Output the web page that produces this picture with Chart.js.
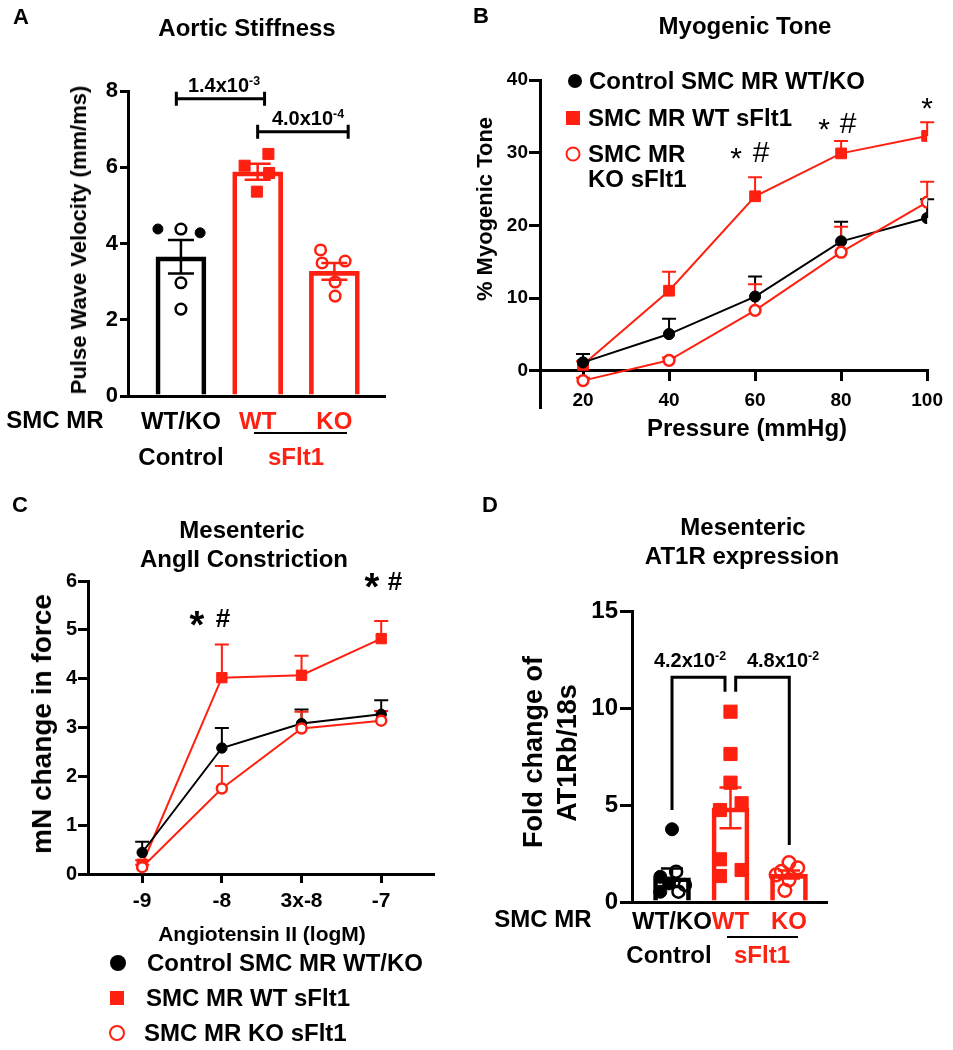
<!DOCTYPE html>
<html>
<head>
<meta charset="utf-8">
<script src="https://cdn.jsdelivr.net/npm/chart.js@4.4.0/dist/chart.umd.min.js"></script>
<style>
  html, body { margin: 0; padding: 0; background: #fff; }
  #page { position: relative; width: 953px; height: 1050px; overflow: hidden;
          font-family: 'Liberation Sans', Arial, sans-serif; font-weight: bold; color: #000; }
  #page canvas { position: absolute; left: 0; top: 0; }
  .t { position: absolute; white-space: nowrap; line-height: 1; transform: translate(-50%, -50%); }
  .t.left { transform: translate(0, -50%); }
  .t.rot { transform: translate(-50%, -50%) rotate(-90deg); }
  .t sup { font-size: 0.62em; vertical-align: 0.6em; line-height: 0; }
  .mk { position: absolute; box-sizing: border-box; transform: translate(-50%, -50%); }
  .hl { position: absolute; height: 2px; background: #000; }
</style>
</head>
<body>
<div id="page">
  <canvas id="cA" width="953" height="1050"></canvas>
  <canvas id="cB" width="953" height="1050"></canvas>
  <canvas id="cC" width="953" height="1050"></canvas>
  <canvas id="cD" width="953" height="1050"></canvas>
</div>
<script>
const BLACK = '#000';
const RED = '#fe2010';

// A: aortic stiffness, pulse wave velocity (mm/ms)
const aortaGroups = ['WT/KO', 'WT', 'KO'];
const aortaMean = [3.65, 5.88, 3.27];
const aortaSem = [0.44, 0.21, 0.22];
const aortaCtrlClosed = [4.38, 4.28];
const aortaCtrlClosedJit = [-0.3, 0.25];
const aortaCtrlOpen = [4.38, 2.97, 2.28];
const aortaCtrlOpenJit = [0, 0, 0];
const aortaWT = [6.04, 6.35, 5.85, 5.36];
const aortaWTJit = [-0.17, 0.14, 0.15, -0.01];
const aortaKO = [3.83, 3.49, 3.54, 2.99, 2.62];
const aortaKOJit = [-0.18, -0.16, 0.14, 0.01, 0.01];
const aortaTicks = [0, 2, 4, 6, 8];
// brackets: from / to (group units), height (mm/ms)
const aortaBrFrom = [0.94, 2.0];
const aortaBrTo = [2.09, 3.18];
const aortaBrY = [7.8, 6.93];

// B: myogenic tone (%)
const pressure = [20, 40, 60, 80, 100];
const toneCtrl = [1.14, 5.04, 10.2, 17.8, 21.0];
const toneCtrlSem = [1.16, 2.11, 2.76, 2.7, 2.6];
const toneWT = [0.8, 11.0, 24.0, 29.9, 32.3];
const toneWTSem = [0.5, 2.6, 2.6, 1.7, 1.9];
const toneKO = [-1.37, 1.42, 8.3, 16.3, 23.2];
const toneKOSem = [0.4, 0.4, 3.6, 3.5, 2.8];
const toneTicks = [0, 10, 20, 30, 40];

// C: AngII constriction (mN)
const doseLabels = ['-9', '-8', '3x-8', '-7'];
const forceCtrl = [0.44, 2.58, 3.08, 3.27];
const forceCtrlSem = [0.22, 0.41, 0.29, 0.29];
const forceWT = [0.2, 4.02, 4.07, 4.82];
const forceWTSem = [0.08, 0.68, 0.4, 0.36];
const forceKO = [0.14, 1.75, 2.98, 3.14];
const forceKOSem = [0.05, 0.46, 0.34, 0.2];
const forceTicks = [0, 1, 2, 3, 4, 5, 6];

// D: AT1Rb/18s fold change
const atGroups = ['WT/KO', 'WT', 'KO'];
const atMean = [1.25, 4.85, 1.42];
const atSem = [0.48, 1.05, 0.21];
const atCtrlClosed = [3.75, 1.3, 0.53, 0.96];
const atCtrlClosedJit = [0, -0.2, -0.2, -0.05];
const atCtrlOpen = [1.56, 0.88, 0.53];
const atCtrlOpenJit = [0.07, 0.22, 0.11];
const atWT = [9.81, 7.63, 6.15, 5.09, 4.74, 2.2, 1.34, 1.65];
const atWTJit = [0, 0, 0, 0.19, -0.18, -0.18, -0.18, 0.19];
const atKO = [1.58, 2.03, 1.76, 0.6, 1.4, 1.14];
const atKOJit = [-0.13, 0, 0.15, -0.07, -0.22, 0];
const atTicks = [0, 5, 10, 15];
// bracket legs (group units / fold change)
const atBrX = [[1, 1.906], [2.089, 3.005]];
const atBrLow = [[4.74, 10.84], [10.84, 2.94]];
const atBrTop = 11.58;

Chart.defaults.font.family = "'Liberation Sans', Arial, sans-serif";
Chart.defaults.font.weight = 'bold';
Chart.defaults.color = BLACK;
Chart.defaults.animation = false;
Chart.defaults.plugins.legend.display = false;
Chart.defaults.plugins.tooltip.enabled = false;

const groupColor = [BLACK, RED, RED];
const YW = 60;   // room kept for y tick labels
const XH = 60;   // room kept for x tick labels

function pts(vals, jit, center) {
  return vals.map((v, i) => ({ x: center + jit[i], y: v }));
}
function xy(xs, ys) {
  return xs.map((x, i) => ({ x: x, y: ys[i] }));
}
function fixTicks(list) {
  return s => { s.ticks = list.map(v => ({ value: v })); };
}
// plot area in page pixels -> layout padding (every canvas covers the page)
function area(l, t, r, b, xh) {
  return { left: l - YW, top: t, right: 953 - r, bottom: 1050 - b - xh };
}
const fitY = s => { s.width = YW; };
const fitX = s => { s.height = XH; };

function errBars(chart, xs, ys, sems, colors, half, both, lw) {
  const { ctx, scales: { x, y } } = chart;
  ctx.save();
  ctx.lineWidth = lw;
  xs.forEach((xv, i) => {
    const px = x.getPixelForValue(xv);
    const top = y.getPixelForValue(ys[i] + sems[i]);
    const bot = y.getPixelForValue(both ? ys[i] - sems[i] : ys[i]);
    ctx.strokeStyle = colors[i];
    ctx.beginPath();
    ctx.moveTo(px, bot); ctx.lineTo(px, top);
    ctx.moveTo(px - half, top); ctx.lineTo(px + half, top);
    if (both) { ctx.moveTo(px - half, bot); ctx.lineTo(px + half, bot); }
    ctx.stroke();
  });
  ctx.restore();
}

const axisBorder = { display: true, color: BLACK, width: 3 };
const tickGrid = len => ({ display: true, drawOnChartArea: false, drawTicks: true, tickLength: len, color: BLACK, lineWidth: 3 });
const noGrid = { display: false, drawTicks: false };

// ---------- A ----------
new Chart(document.getElementById('cA'), {
  type: 'bar',
  data: {
    datasets: [
      { type: 'scatter', data: pts(aortaCtrlClosed, aortaCtrlClosedJit, 1), pointStyle: 'circle', pointRadius: 5, backgroundColor: BLACK, borderColor: BLACK, borderWidth: 1 },
      { type: 'scatter', data: pts(aortaCtrlOpen, aortaCtrlOpenJit, 1), pointStyle: 'circle', pointRadius: 5.3, backgroundColor: 'rgba(0,0,0,0)', borderColor: BLACK, borderWidth: 2.5 },
      { type: 'scatter', data: pts(aortaWT, aortaWTJit, 2), pointStyle: 'rect', pointRadius: 7.8, backgroundColor: RED, borderColor: RED, borderWidth: 1 },
      { type: 'scatter', data: pts(aortaKO, aortaKOJit, 3), pointStyle: 'circle', pointRadius: 5.3, backgroundColor: 'rgba(0,0,0,0)', borderColor: RED, borderWidth: 2.5 },
      { type: 'bar', data: xy([1, 2, 3], aortaMean), backgroundColor: 'rgba(0,0,0,0)', borderColor: groupColor, borderWidth: 4, borderSkipped: 'start', barThickness: 50 }
    ]
  },
  options: {
    responsive: false, events: [],
    layout: { padding: area(128, 91, 385, 396, XH) },
    scales: {
      x: { type: 'linear', offset: false, min: 0.31, max: 3.66, afterBuildTicks: fixTicks([1, 2, 3]), afterFit: fitX,
           grid: noGrid, border: axisBorder,
           ticks: { padding: 12, font: { size: 24 }, maxRotation: 0, minRotation: 0, autoSkip: false,
                    color: c => groupColor[c.index], callback: v => aortaGroups[Math.round(v) - 1] } },
      y: { min: 0, max: 8, afterBuildTicks: fixTicks(aortaTicks), afterFit: fitY,
           grid: tickGrid(8), border: axisBorder, ticks: { padding: 2, font: { size: 22 } } }
    }
  },
  plugins: [{
    id: 'aortaExtras',
    afterDatasetsDraw(chart) {
      errBars(chart, [1, 2, 3], aortaMean, aortaSem, groupColor, 13, true, 2.5);
      const { ctx, scales: { x, y } } = chart;
      ctx.save();
      ctx.strokeStyle = BLACK; ctx.lineWidth = 3;
      aortaBrY.forEach((bv, i) => {
        const x1 = x.getPixelForValue(aortaBrFrom[i]), x2 = x.getPixelForValue(aortaBrTo[i]);
        const py = y.getPixelForValue(bv);
        ctx.beginPath();
        ctx.moveTo(x1, py); ctx.lineTo(x2, py);
        ctx.moveTo(x1, py - 7); ctx.lineTo(x1, py + 7);
        ctx.moveTo(x2, py - 7); ctx.lineTo(x2, py + 7);
        ctx.stroke();
      });
      ctx.restore();
    }
  }]
});

// ---------- B ----------
const lineSet = (xs, ys, color, style, r, fill, bw) => ({
  type: 'line', data: xy(xs, ys), borderColor: color, borderWidth: 2, tension: 0, fill: false,
  pointStyle: style, pointRadius: r, pointBackgroundColor: fill, pointBorderColor: color, pointBorderWidth: bw
});

new Chart(document.getElementById('cB'), {
  type: 'line',
  data: {
    datasets: [
      lineSet(pressure, toneKO, RED, 'circle', 5.4, '#fff', 2.5),
      lineSet(pressure, toneCtrl, BLACK, 'circle', 5.6, BLACK, 1),
      lineSet(pressure, toneWT, RED, 'rect', 7.6, RED, 1)
    ]
  },
  options: {
    responsive: false, events: [],
    layout: { padding: area(540, 80, 928, 407, 0) },
    scales: {
      x: { type: 'linear', min: 10, max: 100, position: { y: 0 }, afterBuildTicks: fixTicks(pressure),
           grid: tickGrid(9), border: axisBorder,
           ticks: { padding: 10, font: { size: 19 }, maxRotation: 0, autoSkip: false } },
      y: { min: -5, max: 40, afterBuildTicks: fixTicks(toneTicks), afterFit: fitY,
           grid: tickGrid(11), border: axisBorder, ticks: { padding: 1, font: { size: 19 } } }
    }
  },
  plugins: [{
    id: 'toneErr',
    beforeDatasetsDraw(chart) {
      errBars(chart, pressure, toneCtrl, toneCtrlSem, pressure.map(() => BLACK), 7, false, 2);
      errBars(chart, pressure, toneWT, toneWTSem, pressure.map(() => RED), 7, false, 2);
      errBars(chart, pressure, toneKO, toneKOSem, pressure.map(() => RED), 7, false, 2);
    }
  }]
});

// ---------- C ----------
const doseX = doseLabels.map((d, i) => i);
new Chart(document.getElementById('cC'), {
  type: 'line',
  data: {
    datasets: [
      lineSet(doseX, forceKO, RED, 'circle', 5, '#fff', 2.5),
      lineSet(doseX, forceCtrl, BLACK, 'circle', 5.2, BLACK, 1),
      lineSet(doseX, forceWT, RED, 'rect', 7.3, RED, 1)
    ]
  },
  options: {
    responsive: false, events: [],
    layout: { padding: area(88, 581, 433, 874, XH) },
    scales: {
      x: { type: 'linear', min: -0.68, max: 3.65, afterBuildTicks: fixTicks(doseX), afterFit: fitX,
           grid: tickGrid(9), border: axisBorder,
           ticks: { padding: 6, font: { size: 21 }, maxRotation: 0, autoSkip: false, callback: v => doseLabels[Math.round(v)] } },
      y: { min: 0, max: 6, afterBuildTicks: fixTicks(forceTicks), afterFit: fitY,
           grid: tickGrid(10), border: axisBorder, ticks: { padding: 1, font: { size: 20 } } }
    }
  },
  plugins: [{
    id: 'forceErr',
    beforeDatasetsDraw(chart) {
      errBars(chart, doseX, forceCtrl, forceCtrlSem, doseX.map(() => BLACK), 7, false, 2);
      errBars(chart, doseX, forceWT, forceWTSem, doseX.map(() => RED), 7, false, 2);
      errBars(chart, doseX, forceKO, forceKOSem, doseX.map(() => RED), 7, false, 2);
    }
  }]
});

// ---------- D ----------
new Chart(document.getElementById('cD'), {
  type: 'bar',
  data: {
    datasets: [
      { type: 'scatter', data: pts(atCtrlOpen, atCtrlOpenJit, 1), pointStyle: 'circle', pointRadius: 6, backgroundColor: 'rgba(0,0,0,0)', borderColor: BLACK, borderWidth: 2.5 },
      { type: 'scatter', data: pts(atCtrlClosed, atCtrlClosedJit, 1), pointStyle: 'circle', pointRadius: 6.5, backgroundColor: BLACK, borderColor: BLACK, borderWidth: 1 },
      { type: 'scatter', data: pts(atWT, atWTJit, 2), pointStyle: 'rect', pointRadius: 9.3, backgroundColor: RED, borderColor: RED, borderWidth: 1 },
      { type: 'scatter', data: pts(atKO, atKOJit, 3), pointStyle: 'circle', pointRadius: 6.3, backgroundColor: 'rgba(0,0,0,0)', borderColor: RED, borderWidth: 2.5 },
      { type: 'bar', data: xy([1, 2, 3], atMean), backgroundColor: 'rgba(0,0,0,0)', borderColor: groupColor, borderWidth: 4, borderSkipped: 'start', barThickness: 37 }
    ]
  },
  options: {
    responsive: false, events: [],
    layout: { padding: area(632, 611, 827, 902, XH) },
    scales: {
      x: { type: 'linear', offset: false, min: 0.316, max: 3.65, afterBuildTicks: fixTicks([1, 2, 3]), afterFit: fitX,
           grid: noGrid, border: axisBorder,
           ticks: { padding: 6, font: { size: 24 }, maxRotation: 0, minRotation: 0, autoSkip: false,
                    color: c => groupColor[c.index], callback: v => atGroups[Math.round(v) - 1] } },
      y: { min: 0, max: 15, afterBuildTicks: fixTicks(atTicks), afterFit: fitY,
           grid: tickGrid(12), border: axisBorder, ticks: { padding: 2, font: { size: 24 } } }
    }
  },
  plugins: [{
    id: 'atExtras',
    afterDatasetsDraw(chart) {
      errBars(chart, [1, 2, 3], atMean, atSem, groupColor, 11, true, 2.5);
      const { ctx, scales: { x, y } } = chart;
      ctx.save();
      ctx.strokeStyle = BLACK; ctx.lineWidth = 3;
      const top = y.getPixelForValue(atBrTop);
      atBrX.forEach((pair, i) => {
        const x1 = x.getPixelForValue(pair[0]), x2 = x.getPixelForValue(pair[1]);
        ctx.beginPath();
        ctx.moveTo(x1, y.getPixelForValue(atBrLow[i][0]));
        ctx.lineTo(x1, top); ctx.lineTo(x2, top);
        ctx.lineTo(x2, y.getPixelForValue(atBrLow[i][1]));
        ctx.stroke();
      });
      ctx.restore();
    }
  }]
});

// ---------- text ----------
const page = document.getElementById('page');
function txt(s, x, y, size, opts) {
  opts = opts || {};
  const d = document.createElement('div');
  d.className = 't' + (opts.rot ? ' rot' : '') + (opts.left ? ' left' : '');
  d.innerHTML = s;
  d.style.left = x + 'px';
  d.style.top = y + 'px';
  d.style.fontSize = size + 'px';
  if (opts.color) d.style.color = opts.color;
  if (opts.normal) d.style.fontWeight = 'normal';
  page.appendChild(d);
}
function mark(x, y, size, shape, color, filled) {
  const d = document.createElement('div');
  d.className = 'mk';
  d.style.left = x + 'px'; d.style.top = y + 'px';
  d.style.width = size + 'px'; d.style.height = size + 'px';
  if (shape === 'circle') d.style.borderRadius = '50%';
  if (filled) d.style.background = color;
  else d.style.border = '2.5px solid ' + color;
  page.appendChild(d);
}
function hline(x1, x2, y) {
  const d = document.createElement('div');
  d.className = 'hl';
  d.style.left = x1 + 'px'; d.style.width = (x2 - x1) + 'px'; d.style.top = (y - 1) + 'px';
  page.appendChild(d);
}

txt('A', 21, 17, 22); txt('B', 481, 16, 22); txt('C', 20, 505, 22); txt('D', 490, 505, 22);

txt('Aortic Stiffness', 247, 28, 24);
txt('Pulse Wave Velocity (mm/ms)', 79, 240, 22, { rot: true });
txt('1.4x10<sup>-3</sup>', 224, 85, 20);
txt('4.0x10<sup>-4</sup>', 308, 118, 20);
txt('SMC MR', 55, 420, 24);
hline(254, 347, 433);
txt('Control', 181, 457, 24);
txt('sFlt1', 296, 457, 24, { color: RED });

txt('Myogenic Tone', 745, 26, 24);
txt('% Myogenic Tone', 485, 209, 22, { rot: true });
txt('Pressure (mmHg)', 747, 428, 24);
mark(575, 81, 14, 'circle', BLACK, true);
mark(573, 118, 14, 'rect', RED, true);
mark(573, 154, 15, 'circle', RED, false);
txt('Control SMC MR WT/KO', 589, 81, 24, { left: true });
txt('SMC MR WT sFlt1', 588, 118, 24, { left: true });
txt('SMC MR', 588, 154, 24, { left: true });
txt('KO sFlt1', 588, 179, 24, { left: true });
txt('*', 736, 158, 30, { normal: true }); txt('#', 761, 152, 30, { normal: true });
txt('*', 824, 129, 30, { normal: true }); txt('#', 848, 123, 30, { normal: true });
txt('*', 927, 108, 30, { normal: true });

txt('Mesenteric', 242, 530, 24);
txt('AngII Constriction', 244, 559, 24);
txt('mN change in force', 42, 724, 28, { rot: true });
txt('Angiotensin II (logM)', 262, 933, 21);
txt('*', 197, 625, 38); txt('#', 223, 618, 26);
txt('*', 372, 587, 38); txt('#', 395, 581, 26);
mark(118, 963, 16, 'circle', BLACK, true);
mark(117, 998, 14, 'rect', RED, true);
mark(117, 1033, 16, 'circle', RED, false);
txt('Control SMC MR WT/KO', 147, 963, 24, { left: true });
txt('SMC MR WT sFlt1', 146, 998, 24, { left: true });
txt('SMC MR KO sFlt1', 144, 1033, 24, { left: true });

txt('Mesenteric', 743, 527, 24);
txt('AT1R expression', 742, 556, 24);
txt('Fold change of', 533, 752, 27, { rot: true });
txt('AT1Rb/18s', 567, 753, 27, { rot: true });
txt('4.2x10<sup>-2</sup>', 690, 660, 20);
txt('4.8x10<sup>-2</sup>', 783, 660, 20);
txt('SMC MR', 543, 919, 24);
hline(727, 798, 937);
txt('Control', 669, 955, 24);
txt('sFlt1', 762, 955, 24, { color: RED });
</script>
</body>
</html>
